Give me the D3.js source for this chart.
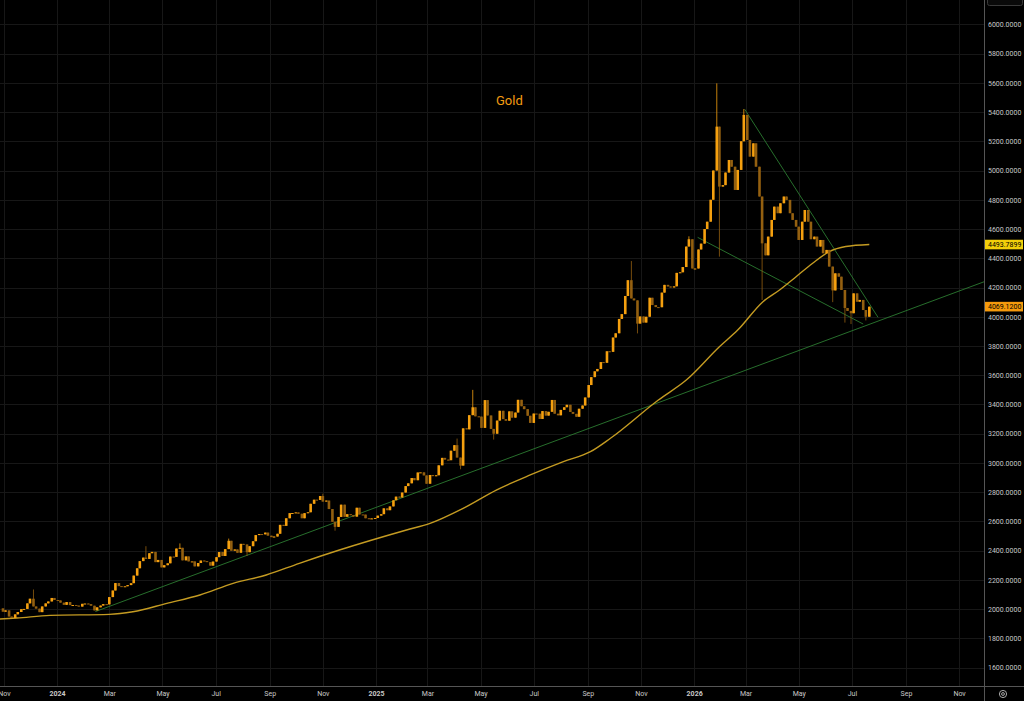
<!DOCTYPE html>
<html>
<head>
<meta charset="utf-8">
<script src="https://cdn.jsdelivr.net/npm/d3@7"></script>
<style>
  html, body { margin: 0; padding: 0; background: #000; overflow: hidden; }
  svg { display: block; }
</style>
</head>
<body>
<div id="chart"></div>
<script>
const width = 1024;
const height = 701;
const plotRight = 984;
const plotBottom = 686;

const title = 'Gold';
const firstOpen = 2006;
const lastMa = 4493.7899;
const lastPrice = 4069.12;

// week (Monday), close on Tuesday, close on Friday
const weeks = [
    ['2023-10-30', 1983, 1992], ['2023-11-06', 1950, 1940], ['2023-11-13', 1965, 1981],
    ['2023-11-20', 2000, 2002], ['2023-11-27', 2040, 2072], ['2023-12-04', 2019, 2004],
    ['2023-12-11', 1980, 2019], ['2023-12-18', 2040, 2053], ['2023-12-25', 2077, 2063],
    ['2024-01-01', 2060, 2045], ['2024-01-08', 2030, 2049], ['2024-01-15', 2028, 2029],
    ['2024-01-22', 2025, 2018], ['2024-01-29', 2037, 2039], ['2024-02-05', 2035, 2024],
    ['2024-02-12', 1992, 2013], ['2024-02-19', 2025, 2035], ['2024-02-26', 2033, 2083],
    ['2024-03-04', 2128, 2179], ['2024-03-11', 2158, 2155], ['2024-03-18', 2157, 2165],
    ['2024-03-25', 2178, 2230], ['2024-04-01', 2280, 2329], ['2024-04-08', 2353, 2344],
    ['2024-04-15', 2383, 2392], ['2024-04-22', 2322, 2337], ['2024-04-29', 2286, 2301],
    ['2024-05-06', 2314, 2360], ['2024-05-13', 2358, 2415], ['2024-05-20', 2420, 2334],
    ['2024-05-27', 2361, 2327], ['2024-06-03', 2327, 2293], ['2024-06-10', 2316, 2333],
    ['2024-06-17', 2329, 2322], ['2024-06-24', 2298, 2326], ['2024-07-01', 2356, 2391],
    ['2024-07-08', 2364, 2411], ['2024-07-15', 2468, 2400], ['2024-07-22', 2409, 2386],
    ['2024-07-29', 2447, 2443], ['2024-08-05', 2390, 2431], ['2024-08-12', 2465, 2507],
    ['2024-08-19', 2514, 2512], ['2024-08-26', 2524, 2503], ['2024-09-02', 2493, 2497],
    ['2024-09-09', 2516, 2577], ['2024-09-16', 2570, 2622], ['2024-09-23', 2657, 2658],
    ['2024-09-30', 2662, 2653], ['2024-10-07', 2622, 2657], ['2024-10-14', 2663, 2721],
    ['2024-10-21', 2749, 2747], ['2024-10-28', 2774, 2736], ['2024-11-04', 2743, 2685],
    ['2024-11-11', 2598, 2563], ['2024-11-18', 2631, 2715], ['2024-11-25', 2632, 2650],
    ['2024-12-02', 2643, 2633], ['2024-12-09', 2694, 2648], ['2024-12-16', 2647, 2622],
    ['2024-12-23', 2617, 2621], ['2024-12-30', 2624, 2640], ['2025-01-06', 2650, 2690],
    ['2025-01-13', 2677, 2703], ['2025-01-20', 2745, 2770], ['2025-01-27', 2764, 2798],
    ['2025-02-03', 2842, 2861], ['2025-02-10', 2897, 2882], ['2025-02-17', 2935, 2936],
    ['2025-02-24', 2915, 2858], ['2025-03-03', 2918, 2910], ['2025-03-10', 2916, 2984],
    ['2025-03-17', 3035, 3023], ['2025-03-24', 3019, 3084], ['2025-03-31', 3122, 3037],
    ['2025-04-07', 2982, 3237], ['2025-04-14', 3230, 3327], ['2025-04-21', 3381, 3319],
    ['2025-04-28', 3317, 3240], ['2025-05-05', 3430, 3325], ['2025-05-12', 3233, 3200],
    ['2025-05-19', 3290, 3357], ['2025-05-26', 3300, 3289], ['2025-06-02', 3353, 3310],
    ['2025-06-09', 3345, 3432], ['2025-06-16', 3388, 3368], ['2025-06-23', 3323, 3274],
    ['2025-06-30', 3338, 3337], ['2025-07-07', 3301, 3355], ['2025-07-14', 3324, 3350],
    ['2025-07-21', 3431, 3337], ['2025-07-28', 3326, 3363], ['2025-08-04', 3381, 3398],
    ['2025-08-11', 3349, 3336], ['2025-08-18', 3316, 3371], ['2025-08-25', 3393, 3448],
    ['2025-09-01', 3533, 3587], ['2025-09-08', 3627, 3643], ['2025-09-15', 3690, 3685],
    ['2025-09-22', 3764, 3760], ['2025-09-29', 3858, 3887], ['2025-10-06', 3985, 4018],
    ['2025-10-13', 4142, 4250], ['2025-10-20', 4125, 4112], ['2025-10-27', 3953, 4002],
    ['2025-11-03', 3960, 4000], ['2025-11-10', 4130, 4080], ['2025-11-17', 4066, 4065],
    ['2025-11-24', 4165, 4218], ['2025-12-01', 4207, 4200], ['2025-12-08', 4208, 4300],
    ['2025-12-15', 4304, 4340], ['2025-12-22', 4480, 4530], ['2025-12-29', 4330, 4330],
    ['2026-01-05', 4460, 4500], ['2026-01-12', 4600, 4650], ['2026-01-19', 4800, 5000],
    ['2026-01-26', 5300, 4890], ['2026-02-02', 4900, 4986], ['2026-02-09', 5072, 5026],
    ['2026-02-16', 4867, 5004], ['2026-02-23', 5200, 5380], ['2026-03-02', 5209, 5095],
    ['2026-03-09', 5186, 5026], ['2026-03-16', 4822, 4502], ['2026-03-23', 4420, 4548],
    ['2026-03-30', 4662, 4753], ['2026-04-06', 4708, 4776], ['2026-04-13', 4822, 4799],
    ['2026-04-20', 4708, 4662], ['2026-04-27', 4616, 4525], ['2026-05-04', 4650, 4730],
    ['2026-05-11', 4650, 4530], ['2026-05-18', 4548, 4480], ['2026-05-25', 4525, 4434],
    ['2026-06-01', 4457, 4343], ['2026-06-08', 4180, 4297], ['2026-06-15', 4274, 4183],
    ['2026-06-22', 4060, 4040], ['2026-06-29', 4024, 4160], ['2026-07-06', 4103, 4115],
    ['2026-07-13', 4046, 4000], ['2026-07-20', 4069, null]
];

// notable wicks: [candle date, high, low]
const wicks = [
    ['2023-12-05', 2135, null], ['2024-04-12', 2431, null], ['2024-05-21', 2450, null],
    ['2024-07-16', 2483, null], ['2024-08-06', null, 2364], ['2024-11-01', 2790, null],
    ['2024-11-15', null, 2537], ['2025-04-04', 3167, null], ['2025-04-08', null, 2957],
    ['2025-04-22', 3500, null], ['2025-05-16', null, 3160], ['2025-10-21', 4381, null],
    ['2025-10-28', null, 3886], ['2025-12-26', 4550, null], ['2026-01-27', 5596, null],
    ['2026-01-30', null, 4411], ['2026-02-27', 5420, null], ['2026-03-20', null, 4115],
    ['2026-06-09', null, 4100], ['2026-06-23', null, 3960], ['2026-06-30', null, 3950],
    ['2026-07-17', null, 3975]
];

// moving average line
const maPoints = [
    ['2023-10-27', 1933], ['2023-11-16', 1940], ['2023-12-24', 1958], ['2024-03-01', 1965],
    ['2024-03-28', 1983], ['2024-05-06', 2040], ['2024-06-13', 2097], ['2024-07-21', 2177],
    ['2024-08-28', 2234], ['2024-10-05', 2314], ['2024-11-20', 2405], ['2025-02-05', 2542],
    ['2025-03-04', 2587], ['2025-04-11', 2690], ['2025-05-19', 2815], ['2025-06-27', 2918],
    ['2025-08-04', 3009], ['2025-09-04', 3077], ['2025-09-27', 3169], ['2025-11-21', 3431],
    ['2025-12-23', 3567], ['2026-01-30', 3795], ['2026-02-20', 3909], ['2026-03-21', 4103],
    ['2026-04-09', 4183], ['2026-04-28', 4274], ['2026-05-17', 4366], ['2026-06-05', 4445],
    ['2026-06-24', 4480], ['2026-07-21', 4494]
];

const trendLines = [
    [['2024-02-14', 1984], ['2026-11-30', 4240]],
    [['2026-02-28', 5419], ['2026-07-31', 3996]],
    [['2026-01-05', 4543], ['2026-07-14', 3950]]
];

const yTicks = [1600, 1800, 2000, 2200, 2400, 2600, 2800, 3000, 3200, 3400, 3600,
    3800, 4000, 4200, 4400, 4600, 4800, 5000, 5200, 5400, 5600, 5800, 6000];

const upColor = '#f5a00f';
const downColor = '#946010';
const font = 'Roboto, "Noto Sans", sans-serif';

const parse = d3.utcParse('%Y-%m-%d');

/** build candles **/
const wickIndex = {};
wicks.forEach(w => { wickIndex[w[0]] = w; });
const candles = [];
let prevClose = firstOpen;
weeks.forEach(([wk, c1, c2]) => {
    const monday = parse(wk);
    [[1, c1], [4, c2]].forEach(([offset, close]) => {
        if (close === null) return;
        const date = d3.utcDay.offset(monday, offset);
        const key = d3.utcFormat('%Y-%m-%d')(date);
        const open = prevClose;
        let high = Math.max(open, close);
        let low = Math.min(open, close);
        const w = wickIndex[key];
        if (w) {
            if (w[1] !== null) high = Math.max(high, w[1]);
            if (w[2] !== null) low = Math.min(low, w[2]);
        }
        candles.push({date, open, close, high, low});
        prevClose = close;
    });
});

const svg = d3.select('#chart').append('svg')
    .attr('width', width)
    .attr('height', height)
    .style('background', '#000');

const x = d3.scaleUtc()
    .domain([new Date(Date.UTC(2023, 9, 27, 14)), new Date(Date.UTC(2026, 10, 29, 14))])
    .range([0, plotRight]);

const y = d3.scaleLinear()
    .domain([1475, 6166])
    .range([plotBottom, 0]);

svg.append('defs').append('clipPath')
    .attr('id', 'plot-clip')
    .append('rect')
    .attr('x', 0).attr('y', 0)
    .attr('width', plotRight).attr('height', plotBottom);

// grid
const monthTicks = x.ticks(d3.utcMonth.every(2));
const grid = svg.append('g').attr('stroke', '#171717').attr('stroke-width', 1);
grid.selectAll('line.v')
    .data(monthTicks)
    .join('line')
    .attr('class', 'v')
    .attr('x1', d => Math.round(x(d)) + 0.5)
    .attr('x2', d => Math.round(x(d)) + 0.5)
    .attr('y1', 0)
    .attr('y2', plotBottom);
grid.selectAll('line.h')
    .data(yTicks)
    .join('line')
    .attr('class', 'h')
    .attr('x1', 0)
    .attr('x2', plotRight)
    .attr('y1', d => Math.round(y(d)) + 0.5)
    .attr('y2', d => Math.round(y(d)) + 0.5);

const plot = svg.append('g').attr('clip-path', 'url(#plot-clip)');

// trend lines
const tl = d3.line().x(d => x(parse(d[0]))).y(d => y(d[1]));
plot.selectAll('path.trend')
    .data(trendLines)
    .join('path')
    .attr('class', 'trend')
    .attr('d', tl)
    .attr('fill', 'none')
    .attr('stroke', '#2b7a31')
    .attr('stroke-width', 0.9);

// moving average
const maLine = d3.line()
    .x(d => x(parse(d[0])))
    .y(d => y(d[1]))
    .curve(d3.curveMonotoneX);
plot.append('path')
    .datum(maPoints)
    .attr('d', maLine)
    .attr('fill', 'none')
    .attr('stroke', '#c49b22')
    .attr('stroke-width', 1.4);

// candles
const bodyW = 2.6;
const candleG = plot.append('g');
candleG.selectAll('line')
    .data(candles)
    .join('line')
    .attr('x1', d => x(d.date))
    .attr('x2', d => x(d.date))
    .attr('y1', d => y(d.high))
    .attr('y2', d => y(d.low))
    .attr('stroke', d => d.close >= d.open ? upColor : downColor)
    .attr('stroke-width', 0.8);
candleG.selectAll('rect')
    .data(candles)
    .join('rect')
    .attr('x', d => x(d.date) - bodyW / 2)
    .attr('y', d => y(Math.max(d.open, d.close)))
    .attr('width', bodyW)
    .attr('height', d => Math.max(1, Math.abs(y(d.open) - y(d.close))))
    .attr('fill', d => d.close >= d.open ? upColor : downColor);

// title
svg.append('text')
    .attr('x', 496)
    .attr('y', 105)
    .attr('font-family', font)
    .attr('font-size', '13px')
    .attr('fill', '#f39c12')
    .text(title);

// axes frame
svg.append('line')
    .attr('x1', 0).attr('x2', width)
    .attr('y1', plotBottom + 0.5).attr('y2', plotBottom + 0.5)
    .attr('stroke', '#555');
svg.append('line')
    .attr('x1', plotRight + 0.5).attr('x2', plotRight + 0.5)
    .attr('y1', 0).attr('y2', height)
    .attr('stroke', '#555');

// x axis
const xAxis = d3.axisBottom(x)
    .tickValues(monthTicks)
    .tickSize(0)
    .tickPadding(5)
    .tickFormat(d => d.getUTCMonth() === 0 ? d3.utcFormat('%Y')(d) : d3.utcFormat('%b')(d));
const gx = svg.append('g')
    .attr('transform', `translate(0,${plotBottom})`)
    .call(xAxis);
gx.select('.domain').remove();
gx.selectAll('text')
    .attr('fill', '#c8c8c8')
    .attr('font-family', font)
    .attr('font-size', '7px')
    .attr('font-weight', d => d.getUTCMonth() === 0 ? 'bold' : 'normal');

// y axis
const yAxis = d3.axisRight(y)
    .tickValues(yTicks)
    .tickSize(0)
    .tickPadding(4)
    .tickFormat(d3.format('.4f'));
const gy = svg.append('g')
    .attr('transform', `translate(${plotRight},0)`)
    .call(yAxis);
gy.select('.domain').remove();
gy.selectAll('text')
    .attr('fill', '#c8c8c8')
    .attr('font-family', font)
    .attr('font-size', '7px');

// last value labels
function priceTag(value, bg) {
    const g = svg.append('g');
    g.append('rect')
        .attr('x', plotRight + 1)
        .attr('y', y(value) - 4.8)
        .attr('width', 38)
        .attr('height', 9.6)
        .attr('fill', bg);
    g.append('text')
        .attr('x', plotRight + 4)
        .attr('y', y(value))
        .attr('dy', '0.34em')
        .attr('font-family', font)
        .attr('font-size', '7px')
        .attr('fill', '#000')
        .text(d3.format('.4f')(value));
}
priceTag(lastMa, '#f2cf0a');
priceTag(lastPrice, '#f59a0c');

// top right dropdown stub
svg.append('rect')
    .attr('x', 987.5).attr('y', -8.5)
    .attr('width', 35).attr('height', 14)
    .attr('rx', 2)
    .attr('fill', '#0a0a0a')
    .attr('stroke', '#3a3a3a');

// settings icon
svg.append('circle')
    .attr('cx', 1003).attr('cy', 694).attr('r', 3.6)
    .attr('fill', 'none').attr('stroke', '#bbb').attr('stroke-width', 0.9);
svg.append('circle')
    .attr('cx', 1003).attr('cy', 694).attr('r', 1.4)
    .attr('fill', 'none').attr('stroke', '#bbb').attr('stroke-width', 0.9);
</script>
</body>
</html>
